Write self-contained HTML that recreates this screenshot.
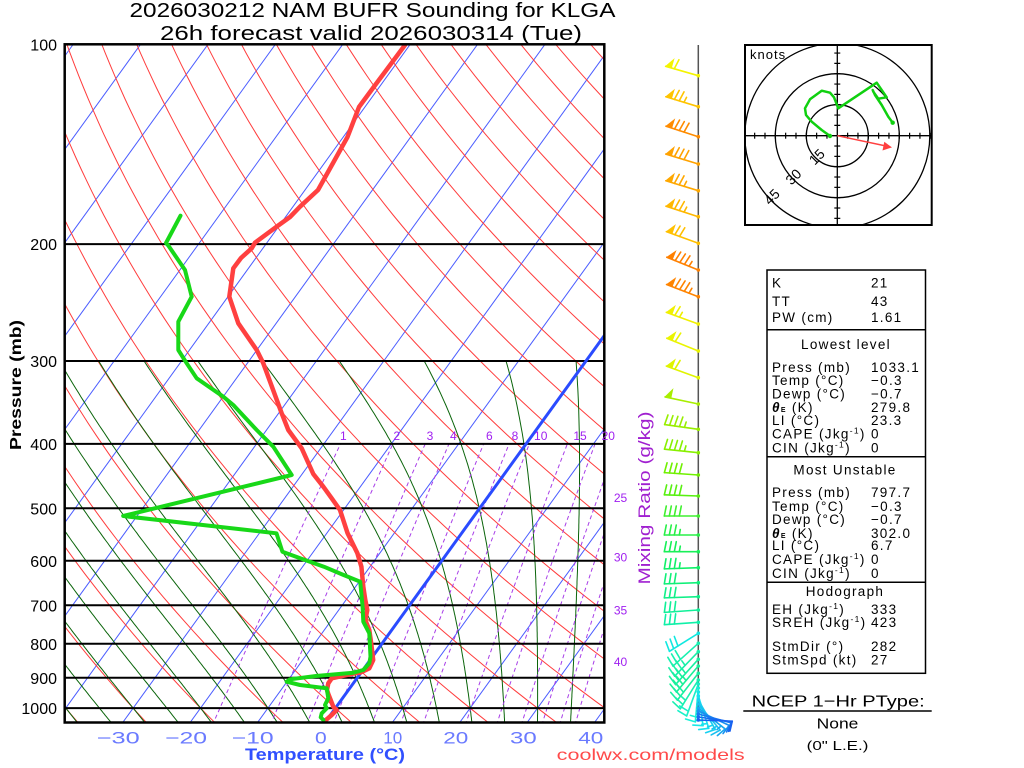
<!DOCTYPE html>
<html><head><meta charset="utf-8"><style>
html,body{margin:0;padding:0;background:#fff;}
svg{display:block;}
</style></head><body>
<svg id="s" width="1024" height="768" xmlns="http://www.w3.org/2000/svg" font-family="'Liberation Sans', sans-serif">
<defs>
<clipPath id="c"><rect x="65" y="44.3" width="539.3" height="678.2"/></clipPath>
<clipPath id="hc"><rect x="745" y="45" width="186.7" height="180"/></clipPath>
</defs>
<rect width="1024" height="768" fill="#fff"/>
<g clip-path="url(#c)">
<g id="iso" stroke="#4a5cff" stroke-width="1" fill="none"></g>
<g id="dry" stroke="#ff3c3c" stroke-width="1" fill="none"></g>
<g id="moist" stroke="#0a640a" stroke-width="1" fill="none"></g>
<g id="mix" stroke="#a83ee8" stroke-width="1" fill="none" stroke-dasharray="4,3"></g>
<g stroke="#000" stroke-width="2">
<line x1="65" x2="604.3" y1="244.1" y2="244.1"/>
<line x1="65" x2="604.3" y1="361" y2="361"/>
<line x1="65" x2="604.3" y1="443.9" y2="443.9"/>
<line x1="65" x2="604.3" y1="508.3" y2="508.3"/>
<line x1="65" x2="604.3" y1="560.8" y2="560.8"/>
<line x1="65" x2="604.3" y1="605.3" y2="605.3"/>
<line x1="65" x2="604.3" y1="643.8" y2="643.8"/>
<line x1="65" x2="604.3" y1="677.7" y2="677.7"/>
<line x1="65" x2="604.3" y1="708.1" y2="708.1"/>
</g>
<g id="zero" stroke="#2a4bff" stroke-width="3" fill="none"></g>
<polyline fill="none" stroke="#ff4040" stroke-width="4.5" stroke-linejoin="round" stroke-linecap="round" points="405,45 373,88 359,107 347.5,137 318,190 300,206.7 290,217 276.6,226.7 255,242.7 251.7,248.3 241,258 233.3,268.3 229.3,296.7 238.3,323.3 256.7,350 263.3,363.3 281.7,413.3 288.3,430 301.7,448.3 313.3,474 323.3,486.7 331.7,498.3 340,510 347.6,533.3 357.4,553.3 361.4,566.7 363.3,586.7 365.3,600 367.3,610 365.3,620 369.3,630 371.2,643.3 373.2,660 369.3,668.3 360,672.7 353.3,673.5 331.7,678.3 328.3,683.3 327,690 328.3,694 333.3,706.7 336.7,710 331.7,715 326.7,719.3 324,721"/>
<polyline fill="none" stroke="#18d818" stroke-width="4" stroke-linejoin="round" stroke-linecap="round" points="180.5,215.7 166,243 168.3,245.5 185,270 191.7,296.7 178.3,321.7 178.3,350 186.7,363.3 196.7,378.3 223.3,396.7 233.3,405 256.7,430 273.3,446.7 291.7,475 123.2,516 276.5,533.3 282.4,551.7 300.2,558.3 323.9,566.7 343.6,575 360.2,581.7 362.6,606.7 363.3,621.7 369.3,633.3 370.5,656.7 369.3,663.3 363.3,670 353.3,672.7 316,676 290,679.3 286.7,681.7 300,685 326.7,688.3 328.3,698.3 325,705 326.7,708.3 321.7,713.3 320.7,717.3 323.3,720"/>
</g>
<rect x="64.7" y="44.3" width="539.6" height="678.2" fill="none" stroke="#000" stroke-width="2.5"/>

<!-- titles -->
<text x="129.5" y="17" font-size="20" textLength="486" lengthAdjust="spacingAndGlyphs" fill="#000">2026030212 NAM BUFR Sounding for KLGA</text>
<text x="160" y="40" font-size="20" textLength="422" lengthAdjust="spacingAndGlyphs" fill="#000">26h forecast valid 2026030314 (Tue)</text>

<!-- pressure labels -->
<g font-size="16" fill="#000" text-anchor="end">
<text x="57" y="50.5">100</text>
<text x="57" y="250">200</text>
<text x="57" y="367">300</text>
<text x="57" y="450">400</text>
<text x="57" y="514.5">500</text>
<text x="57" y="567">600</text>
<text x="57" y="611.5">700</text>
<text x="57" y="650">800</text>
<text x="57" y="684">900</text>
<text x="57" y="714">1000</text>
</g>
<text transform="translate(21,385) rotate(-90)" text-anchor="middle" font-size="16" font-weight="bold" textLength="130" lengthAdjust="spacingAndGlyphs" fill="#000">Pressure (mb)</text>

<!-- temperature labels -->
<g font-size="16.5" fill="#6a7aff">
<text x="96.7" y="743.5" textLength="43" lengthAdjust="spacingAndGlyphs">−30</text>
<text x="165" y="743.5" textLength="42" lengthAdjust="spacingAndGlyphs">−20</text>
<text x="231.7" y="743.5" textLength="42" lengthAdjust="spacingAndGlyphs">−10</text>
<text x="315" y="743.5" textLength="11.7" lengthAdjust="spacingAndGlyphs">0</text>
<text x="383.3" y="743.5" textLength="19" lengthAdjust="spacingAndGlyphs">10</text>
<text x="443.3" y="743.5" textLength="25" lengthAdjust="spacingAndGlyphs">20</text>
<text x="510" y="743.5" textLength="26.7" lengthAdjust="spacingAndGlyphs">30</text>
<text x="578.3" y="743.5" textLength="25" lengthAdjust="spacingAndGlyphs">40</text>
</g>
<text x="245" y="760" font-size="17" font-weight="bold" fill="#3050ff" textLength="160" lengthAdjust="spacingAndGlyphs">Temperature (°C)</text>
<text x="556.7" y="760" font-size="16" fill="#ff4a4a" textLength="188" lengthAdjust="spacingAndGlyphs">coolwx.com/models</text>

<!-- mixing ratio labels -->
<g font-size="12" fill="#a020f0" text-anchor="middle">
<text x="343.3" y="440">1</text>
<text x="396.7" y="440">2</text>
<text x="430" y="440">3</text>
<text x="453.3" y="440">4</text>
<text x="489.3" y="440">6</text>
<text x="515" y="440">8</text>
<text x="540.7" y="440">10</text>
<text x="580" y="440">15</text>
<text x="608.3" y="440">20</text>
<text x="620.5" y="502">25</text>
<text x="620.5" y="561.5">30</text>
<text x="620.5" y="614.5">35</text>
<text x="620.5" y="666">40</text>
</g>
<text transform="translate(650,498) rotate(-90)" text-anchor="middle" font-size="17" fill="#a020d0" textLength="173" lengthAdjust="spacingAndGlyphs">Mixing Ratio (g/kg)</text>

<!-- wind barbs -->
<line x1="698.3" y1="45" x2="698.3" y2="712" stroke="#555" stroke-width="1.5"/>
<g id="barbs" stroke-width="1.6" stroke-linecap="round"></g>

<!-- hodograph -->
<g clip-path="url(#hc)">
<g fill="none" stroke="#000" stroke-width="1.3">
<circle cx="837.3" cy="135.7" r="31"/>
<circle cx="837.3" cy="135.7" r="62"/>
<circle cx="837.3" cy="135.7" r="92.5"/>
<line x1="745" y1="135.7" x2="931.7" y2="135.7"/>
<line x1="837.3" y1="45" x2="837.3" y2="225"/>
</g>
<g id="hticks" stroke="#000" stroke-width="1.2"></g>
<polyline fill="none" stroke="#10d010" stroke-width="2.5" stroke-linejoin="round" points="830,136 821.7,130 811.7,121.7 806,115 805,108.3 810,99.3 821.7,90.7 830,92.7 834,97.3 838.3,108.3 876.7,82.7 886.7,97.3 878.3,98.7 873.3,91.7 872.7,90 875,95 881.7,105 888.3,116.7 892.7,122.7"/>
<circle cx="830" cy="136" r="2.2" fill="#10d010"/>
<circle cx="892.7" cy="122.7" r="2.2" fill="#10d010"/>
<line x1="837.3" y1="135.7" x2="886" y2="146" stroke="#ff4040" stroke-width="1.5"/>
<polygon points="892,147.4 882.5,150.5 884.3,141.8" fill="#ff4040"/>
</g>
<rect x="745" y="45" width="186.7" height="180" fill="none" stroke="#000" stroke-width="2"/>
<text x="750" y="59" font-size="13" letter-spacing="1" fill="#000">knots</text>
<g font-size="14" fill="#000" text-anchor="middle">
<text transform="translate(816.7,156.7) rotate(-45)" y="5">15</text>
<text transform="translate(793.3,176.7) rotate(-45)" y="5">30</text>
<text transform="translate(771.7,196.7) rotate(-45)" y="5">45</text>
</g>

<!-- table -->
<rect x="767" y="270" width="158.5" height="403.3" fill="none" stroke="#000" stroke-width="1.5"/>
<g stroke="#000" stroke-width="1.5">
<line x1="767" x2="925.5" y1="329.7" y2="329.7"/>
<line x1="767" x2="925.5" y1="456.7" y2="456.7"/>
<line x1="767" x2="925.5" y1="582.3" y2="582.3"/>
</g>
<g font-size="13.5" letter-spacing="1.3" fill="#000">
<text x="772" y="287.5">K</text><text x="871" y="287.5">21</text>
<text x="772" y="305.8">TT</text><text x="871" y="305.8">43</text>
<text x="772" y="321.8">PW (cm)</text><text x="871" y="321.8">1.61</text>
<text x="846" y="349" text-anchor="middle">Lowest level</text>
<text x="772" y="371.8">Press (mb)</text><text x="871" y="371.8">1033.1</text>
<text x="772" y="385.2">Temp (°C)</text><text x="871" y="385.2">−0.3</text>
<text x="772" y="398.5">Dewp (°C)</text><text x="871" y="398.5">−0.7</text>
<text x="772" y="411.8"><tspan font-weight="bold" font-style="italic">θ</tspan><tspan font-size="7" font-weight="bold">E</tspan> (K)</text><text x="871" y="411.8">279.8</text>
<text x="772" y="425.2">LI (°C)</text><text x="871" y="425.2">23.3</text>
<text x="772" y="438.5">CAPE (Jkg<tspan font-size="8.5" dy="-5">-1</tspan><tspan dy="5">)</tspan></text><text x="871" y="438.5">0</text>
<text x="772" y="452.5">CIN (Jkg<tspan font-size="8.5" dy="-5">-1</tspan><tspan dy="5">)</tspan></text><text x="871" y="452.5">0</text>
<text x="845" y="474.5" text-anchor="middle">Most Unstable</text>
<text x="772" y="497.2">Press (mb)</text><text x="871" y="497.2">797.7</text>
<text x="772" y="511.2">Temp (°C)</text><text x="871" y="511.2">−0.3</text>
<text x="772" y="523.8">Dewp (°C)</text><text x="871" y="523.8">−0.7</text>
<text x="772" y="537.8"><tspan font-weight="bold" font-style="italic">θ</tspan><tspan font-size="7" font-weight="bold">E</tspan> (K)</text><text x="871" y="537.8">302.0</text>
<text x="772" y="550.2">LI (°C)</text><text x="871" y="550.2">6.7</text>
<text x="772" y="564">CAPE (Jkg<tspan font-size="8.5" dy="-5">-1</tspan><tspan dy="5">)</tspan></text><text x="871" y="564">0</text>
<text x="772" y="577.8">CIN (Jkg<tspan font-size="8.5" dy="-5">-1</tspan><tspan dy="5">)</tspan></text><text x="871" y="577.8">0</text>
<text x="845" y="596.2" text-anchor="middle">Hodograph</text>
<text x="772" y="613.8">EH (Jkg<tspan font-size="8.5" dy="-5">-1</tspan><tspan dy="5">)</tspan></text><text x="871" y="613.8">333</text>
<text x="772" y="627.2">SREH (Jkg<tspan font-size="8.5" dy="-5">-1</tspan><tspan dy="5">)</tspan></text><text x="871" y="627.2">423</text>
<text x="772" y="651.2">StmDir (°)</text><text x="871" y="651.2">282</text>
<text x="772" y="664.5">StmSpd (kt)</text><text x="871" y="664.5">27</text>
</g>

<!-- ptype -->
<text x="751.7" y="706.7" font-size="16" textLength="173" lengthAdjust="spacingAndGlyphs" fill="#000">NCEP 1−Hr PType:</text>
<line x1="743.3" y1="711" x2="931.7" y2="711" stroke="#000" stroke-width="1.5"/>
<text x="816.7" y="728.3" font-size="15" textLength="41.7" lengthAdjust="spacingAndGlyphs" fill="#000">None</text>
<text x="806.7" y="750" font-size="13" textLength="61.7" lengthAdjust="spacingAndGlyphs" fill="#000">(0" L.E.)</text>

<script>
(function(){
var NS='http://www.w3.org/2000/svg';
function Y(p){return 44.3+288.3*Math.log(p/100);}
function X(T,p){return 325+6.74*T+0.722*(722.5-Y(p));}
function P(pts){return 'M'+pts.map(function(q){return q[0].toFixed(1)+' '+q[1].toFixed(1);}).join('L');}
function add(gid,tag,attrs){var e=document.createElementNS(NS,tag);for(var k in attrs)e.setAttribute(k,attrs[k]);document.getElementById(gid).appendChild(e);return e;}
// isotherms
for(var T=-150;T<=50;T+=10){ if(T===0) continue; add('iso','path',{d:P([[X(T,1060),Y(1060)],[X(T,95),Y(95)]])}); }
add('zero','path',{d:P([[X(0,1050),Y(1050)],[X(0,95),Y(95)]])});
// dry adiabats
for(var t=-60;t<=230;t+=10){var th=t+273.15;var pts=[];for(var i=0;i<=60;i++){var p=1060*Math.pow(95/1060,i/60);pts.push([X(th*Math.pow(p/1000,0.2857)-273.15,p),Y(p)]);}add('dry','path',{d:P(pts)});}
// moist adiabats
function lapse(p,T){var Tc=T-273.15;var es=6.112*Math.exp(17.67*Tc/(Tc+243.5));var rs=0.622*es/(p-es);var Lv=2.501e6,Rd=287.04,Cp=1005.7;return ((Rd*T+Lv*rs)/p)/(Cp+Lv*Lv*rs*0.622/(Rd*T*T));}
for(var tw=-40;tw<=45;tw+=5){
  var T0=tw+273.15; var down=[]; var Tt=T0; var p;
  for(p=1000;p<1055;p+=5){down.push([X(Tt-273.15,p),Y(p)]);var k1=lapse(p,Tt);var k2=lapse(p+5,Tt+5*k1);Tt+=2.5*(k1+k2);}
  down.reverse();
  var up=[]; Tt=T0;
  for(p=1000;p>=300;p-=5){up.push([X(Tt-273.15,p),Y(p)]);var a1=lapse(p,Tt);var a2=lapse(p-5,Tt-5*a1);Tt-=2.5*(a1+a2);}
  add('moist','path',{d:P(down.concat(up.slice(1)))});
}
// mixing ratio
var ws=[1,2,3,4,6,8,10,15,20,25,30,35,40];
ws.forEach(function(w){var pts=[];for(var p=1060;p>=400;p-=10){var e=w*p/(622+w);var l=Math.log(e/6.112);var Td=243.5*l/(17.67-l);pts.push([X(Td,p),Y(p)]);}add('mix','path',{d:P(pts)});});
// hodograph ticks
for(var k=-9;k<=9;k++){if(k===0)continue;var xx=837.3+k*10.33;add('hticks','line',{x1:xx,x2:xx,y1:132.7,y2:138.7});var yy=135.7+k*10.33;add('hticks','line',{x1:834.3,x2:840.3,y1:yy,y2:yy});}
// barbs
var B=[
[75.7,286,60,'#f4f400'],[106.7,287,75,'#ffc400'],[136.7,288,80,'#ff8c00'],[164,287,80,'#ffa200'],
[190.7,287,75,'#ffa800'],[216.7,288,75,'#ffb800'],[243.3,290,70,'#ffc000'],[270,292,85,'#ff8000'],
[296.7,291,85,'#ff8400'],[324,290,65,'#f0f000'],[351,292,60,'#eaf400'],[377.7,290,60,'#e0f400'],
[404,282,50,'#a8ee00'],[429.3,278,45,'#98ee00'],[452.7,276,45,'#88f000'],[475,274,40,'#70f000'],
[496,272,40,'#58f010'],[516,270,40,'#40f030'],[535,270,35,'#28f048'],[551.7,270,35,'#18f058'],
[567.7,268,35,'#10f068'],[582.7,268,30,'#10f078'],[596.7,268,30,'#10f088'],[610,266,30,'#10f098'],
[622.3,266,30,'#10f0a8'],[633.3,238,30,'#10e8e0'],[643.3,228,30,'#18f0b0'],[651.7,224,35,'#18f0a8'],
[659.3,222,35,'#18f0a0'],[666,220,35,'#18f098'],[673.3,218,30,'#18f0a0'],[680,212,25,'#18f0b0'],
[684,200,20,'#18f0c8'],[688,185,15,'#18f0d8'],[692,172,15,'#18e8e8'],[696,162,15,'#18e0f0'],
[700,150,15,'#18d0f0'],[704,140,15,'#18c0f0'],[708,128,15,'#18a8f0'],[711,115,12,'#1890f0'],
[714,105,10,'#1878f0'],[717,98,10,'#1868f0'],[720,92,10,'#1860f0']
];
B.forEach(function(b){
  var ax=698.3, ay=b[0], r=b[1]*Math.PI/180, col=b[3];
  var sx=Math.sin(r), sy=-Math.cos(r), L=34;
  var tx=ax+L*sx, ty=ay+L*sy, ux=-sx, uy=-sy, fx=-sy, fy=sx;
  add('barbs','line',{x1:ax,y1:ay,x2:tx,y2:ty,stroke:col});
  var s=Math.round(b[2]/5)*5, pos=0;
  while(s>=50){var x1=tx+pos*ux,y1=ty+pos*uy,x2=tx+(pos+6)*ux,y2=ty+(pos+6)*uy;
    add('barbs','polygon',{points:x1+','+y1+' '+x2+','+y2+' '+(x2+9*fx)+','+(y2+9*fy),fill:col,stroke:col,'stroke-width':0.8});
    pos+=9; s-=50;}
  while(s>=10){var bx=tx+pos*ux,by=ty+pos*uy;add('barbs','line',{x1:bx,y1:by,x2:bx+10*fx+2*ux,y2:by+10*fy+2*uy,stroke:col});pos+=5;s-=10;}
  if(s>=5){var hx=tx+pos*ux,hy=ty+pos*uy;add('barbs','line',{x1:hx,y1:hy,x2:hx+5.5*fx+1*ux,y2:hy+5.5*fy+1*uy,stroke:col});}
  add('barbs','circle',{cx:ax,cy:ay,r:1.8,fill:col,stroke:'none'});
});
})();
</script>
</svg>
</body></html>
